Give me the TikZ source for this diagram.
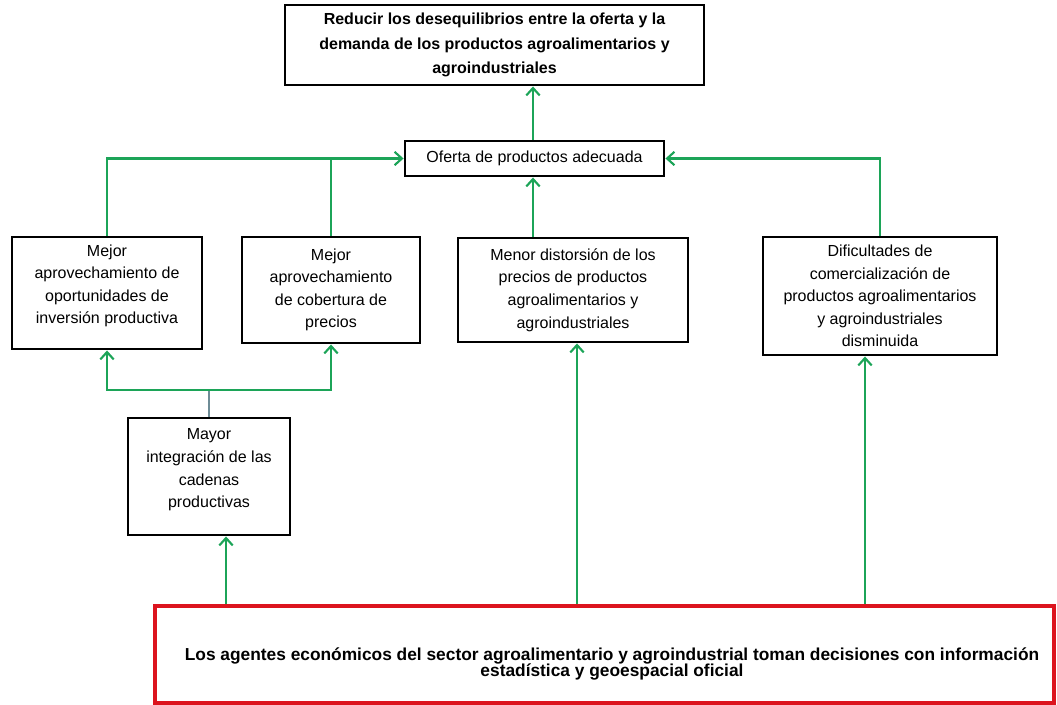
\documentclass[tikz,border=0pt]{standalone}
\usepackage{fontspec}
\setmainfont{Liberation Sans}
\usetikzlibrary{arrows.meta}
\newdimen\px \px=0.75pt
\newcommand\redfnt{\fontsize{13pt}{11.6pt}\selectfont\bfseries\lineskiplimit=-100pt\relax\lineskip=0pt\relax}
\definecolor{lnk}{RGB}{28,164,88}
\definecolor{thin}{RGB}{110,140,150}
\definecolor{redb}{RGB}{220,20,30}
\tikzset{
  box/.style={draw=black, line width=2.2pt, fill=white, align=center, inner sep=2pt,
    font=\fontsize{12pt}{16.9pt}\selectfont},
  topbox/.style={box, font=\fontsize{12pt}{18.2pt}\selectfont\bfseries},
  redbox/.style={draw=redb, line width=2.4pt, fill=white},
  redtext/.style={align=center, inner sep=0pt, font=\redfnt},
  arr/.style={draw=lnk, line width=1.6pt, -{Straight Barb[length=5.5pt,width=10pt,line width=1.6pt]}},
  ln/.style={draw=lnk, line width=1.6pt},
  thinln/.style={draw=thin, line width=0.8pt}
}
\begin{document}
\begin{tikzpicture}[x=1\px, y=-1\px]
\useasboundingbox (0,0) rectangle (1057,704);
\fill[white] (0,0) rectangle (1057,704);

\node[topbox, minimum width=419\px, minimum height=80\px] (top) at (494.5,45)
  {Reducir los desequilibrios entre la oferta y la\\demanda de los productos agroalimentarios y\\agroindustriales};
\node[box, minimum width=259\px, minimum height=35\px] (oferta) at (534.5,158.5)
  {Oferta de productos adecuada};
\node[box, minimum width=190\px, minimum height=112\px] (mej1) at (107,293)
  {Mejor\\aprovechamiento de\\oportunidades de\\inversión productiva\\[-5\px]};
\node[box, minimum width=178\px, minimum height=106\px] (mej2) at (331,290)
  {Mejor\\aprovechamiento\\de cobertura de\\precios};
\node[box, minimum width=230\px, minimum height=104\px] (menor) at (573,290)
  {Menor distorsión de los\\precios de productos\\agroalimentarios y\\agroindustriales};
\node[box, minimum width=234\px, minimum height=118\px] (dif) at (880,296)
  {Dificultades de\\comercialización de\\productos agroalimentarios\\y agroindustriales\\disminuida};
\node[box, minimum width=162\px, minimum height=117\px] (mayor) at (209,476.5)
  {Mayor\\integración de las\\cadenas\\productivas\\[-6\px]};
\node[redbox, minimum width=899\px, minimum height=97\px] (red) at (604.5,654.5) {};
\node[redtext] (redtxt) at (612,664)
  {Los agentes económicos del sector agroalimentario y agroindustrial toman decisiones con información\\estadística y geoespacial oficial};

\coordinate (j) at (209,390);

\draw[arr] (oferta.north -| 533,0) -- (top.south -| 533,0);
\draw[arr] (mej1.north) |- (oferta.west);
\draw[ln] (mej2.north) -- (mej2.north |- oferta.west);
\draw[arr] (dif.north) |- (oferta.east);
\draw[arr] (menor.north -| 533,0) -- (oferta.south -| 533,0);

\draw[thinln] (mayor.north) -- (j);
\draw[arr] (j) -| (mej1.south);
\draw[arr] (j) -| (mej2.south);

\draw[arr] ([xshift=17\px]mayor.south |- red.north) -- ([xshift=17\px]mayor.south);
\draw[arr] ([xshift=4\px]menor.south |- red.north) -- ([xshift=4\px]menor.south);
\draw[arr] ([xshift=-15\px]dif.south |- red.north) -- ([xshift=-15\px]dif.south);
\end{tikzpicture}
\end{document}
